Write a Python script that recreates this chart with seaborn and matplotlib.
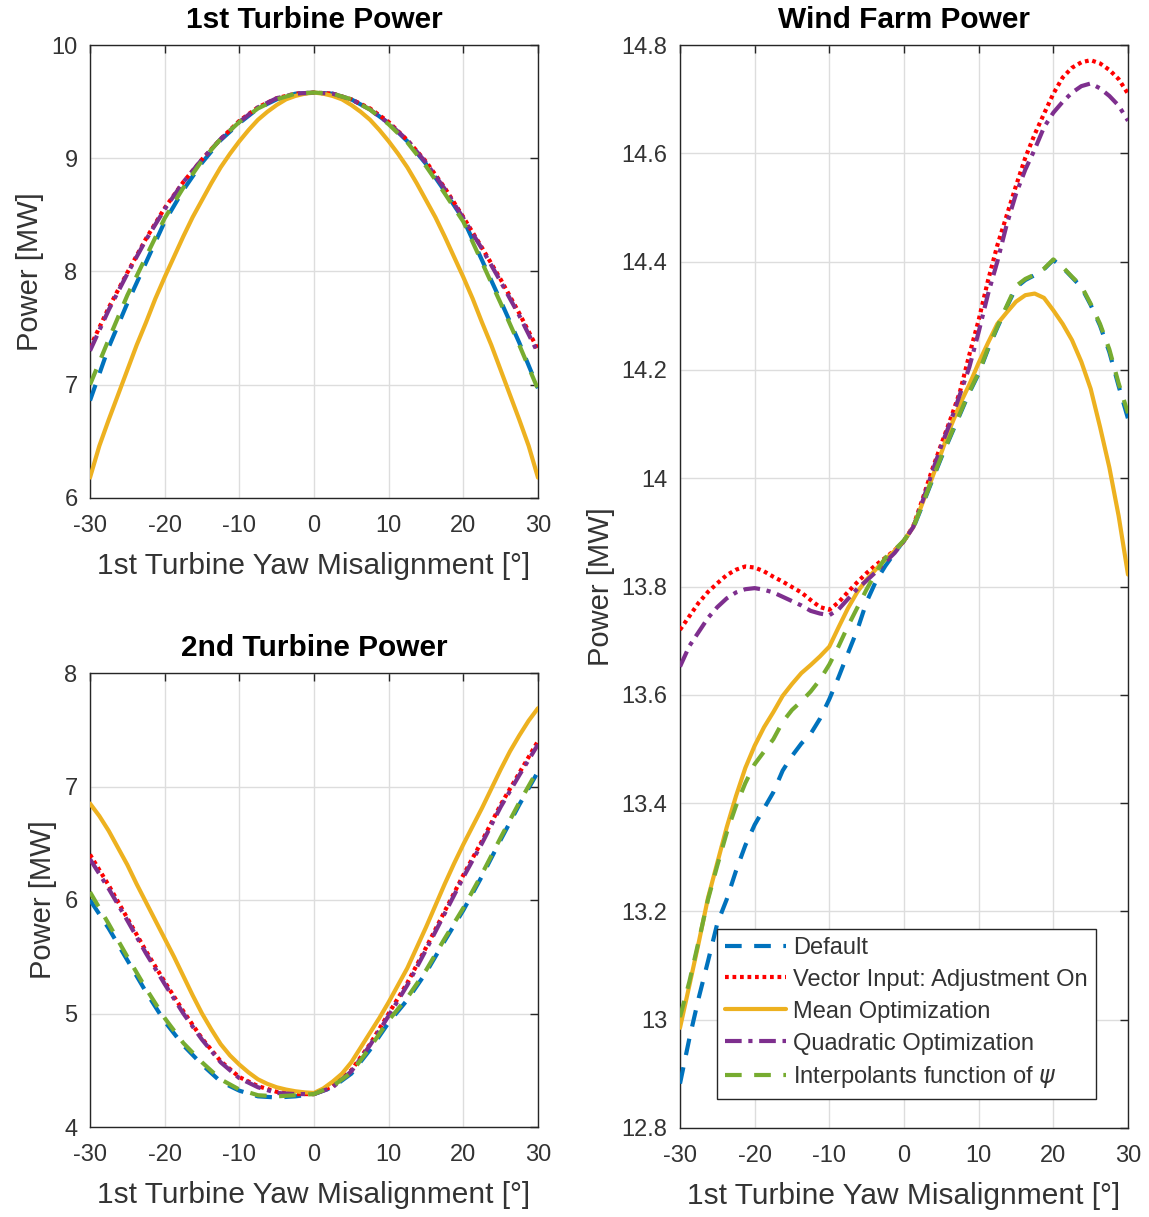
import numpy as np
import pandas as pd
import matplotlib
matplotlib.use("Agg")
import matplotlib.pyplot as plt
import seaborn as sns
from matplotlib.ticker import FuncFormatter, MultipleLocator

# ---------------- data ----------------
yaw = [-30, -27.5, -25, -22.5, -20, -17.5, -15, -12.5, -10, -7.5, -5, -2.5, 0,
       2.5, 5, 7.5, 10, 12.5, 15, 17.5, 20, 22.5, 25, 27.5, 30]
yaw_fine = [-30, -28.75, -27.5, -26.25, -25, -23.75, -22.5, -21.25, -20, -18.75, -17.5, -16.25,
            -15, -13.75, -12.5, -11.25, -10, -8.75, -7.5, -6.25, -5, -3.75, -2.5, -1.25, 0,
            1.25, 2.5, 3.75, 5, 6.25, 7.5, 8.75, 10, 11.25, 12.5, 13.75, 15, 16.25, 17.5,
            18.75, 20, 21.25, 22.5, 23.75, 25, 26.25, 27.5, 28.75, 30]

series_names = ["Default", "Vector Input: Adjustment On", "Mean Optimization",
                "Quadratic Optimization", r"Interpolants function of $\psi$"]

# 1st turbine power [MW]
t1_default = [6.86, 7.33, 7.72, 8.08, 8.44, 8.72, 8.96, 9.16, 9.31, 9.44, 9.52, 9.57, 9.58,
              9.57, 9.52, 9.43, 9.31, 9.15, 8.95, 8.71, 8.46, 8.10, 7.74, 7.37, 6.97]
t1_vector = [7.33, 7.68, 7.99, 8.29, 8.56, 8.79, 8.99, 9.17, 9.33, 9.45, 9.53, 9.57, 9.58,
             9.57, 9.52, 9.44, 9.32, 9.16, 8.97, 8.74, 8.48, 8.21, 7.93, 7.63, 7.31]
t1_mean = [6.18, 6.46, 6.69, 6.91, 7.13, 7.35, 7.55, 7.76, 7.95, 8.13, 8.31, 8.48,
           8.63, 8.78, 8.92, 9.04, 9.15, 9.25, 9.34, 9.41, 9.47, 9.52, 9.55, 9.57, 9.58,
           9.57, 9.55, 9.52, 9.47, 9.41, 9.34, 9.25, 9.15, 9.04, 8.92, 8.78, 8.63, 8.48, 8.31,
           8.13, 7.95, 7.76, 7.55, 7.35, 7.13, 6.91, 6.69, 6.46, 6.18]
t1_quad = [7.30, 7.66, 7.98, 8.28, 8.55, 8.79, 8.99, 9.17, 9.32, 9.45, 9.53, 9.57, 9.58,
           9.57, 9.52, 9.43, 9.31, 9.16, 8.96, 8.73, 8.47, 8.20, 7.91, 7.61, 7.28]
t1_interp = [7.00, 7.40, 7.79, 8.13, 8.47, 8.74, 8.98, 9.17, 9.32, 9.44, 9.52, 9.57, 9.58,
             9.57, 9.52, 9.43, 9.30, 9.14, 8.93, 8.69, 8.44, 8.08, 7.72, 7.35, 6.96]

# 2nd turbine power [MW]
t2_default = [6.00, 5.75, 5.47, 5.19, 4.93, 4.72, 4.55, 4.40, 4.32, 4.27, 4.26, 4.27, 4.29,
              4.35, 4.47, 4.68, 4.92, 5.12, 5.36, 5.64, 5.91, 6.21, 6.53, 6.84, 7.13]
t2_vector = [6.40, 6.13, 5.84, 5.55, 5.28, 5.02, 4.78, 4.58, 4.44, 4.36, 4.31, 4.29, 4.29,
             4.36, 4.50, 4.73, 5.00, 5.27, 5.58, 5.90, 6.22, 6.52, 6.84, 7.12, 7.40]
t2_mean = [6.85, 6.74, 6.61, 6.46, 6.31, 6.14, 5.98, 5.82, 5.66, 5.50, 5.33, 5.16,
           5.00, 4.86, 4.73, 4.63, 4.55, 4.48, 4.42, 4.38, 4.35, 4.33, 4.315, 4.305, 4.30,
           4.34, 4.40, 4.47, 4.57, 4.70, 4.83, 4.96, 5.10, 5.25, 5.40, 5.58, 5.76, 5.95, 6.14,
           6.32, 6.49, 6.65, 6.81, 6.98, 7.15, 7.31, 7.45, 7.58, 7.69]
t2_quad = [6.36, 6.10, 5.82, 5.53, 5.26, 5.00, 4.77, 4.57, 4.43, 4.35, 4.30, 4.29, 4.29,
           4.35, 4.49, 4.72, 4.98, 5.25, 5.56, 5.88, 6.20, 6.50, 6.82, 7.10, 7.37]
t2_interp = [6.07, 5.79, 5.50, 5.22, 4.96, 4.74, 4.57, 4.42, 4.33, 4.28, 4.27, 4.28, 4.29,
             4.36, 4.48, 4.70, 4.94, 5.14, 5.38, 5.66, 5.93, 6.23, 6.55, 6.86, 7.15]

# wind farm power [MW] (on yaw_fine)
wf_default = [12.882, 12.965, 13.040, 13.108, 13.178, 13.222, 13.275, 13.322, 13.360, 13.390, 13.420, 13.460,
              13.487, 13.510, 13.528, 13.556, 13.592, 13.633, 13.677, 13.720, 13.772, 13.810, 13.838, 13.862, 13.885,
              13.908, 13.951, 13.995, 14.038, 14.078, 14.118, 14.158, 14.193, 14.238, 14.278, 14.316, 14.352, 14.366, 14.375,
              14.386, 14.403, 14.389, 14.371, 14.353, 14.320, 14.282, 14.233, 14.170, 14.110]
wf_vector = [13.720, 13.745, 13.770, 13.790, 13.806, 13.821, 13.831, 13.837, 13.835, 13.828, 13.818, 13.809,
             13.799, 13.789, 13.775, 13.762, 13.757, 13.771, 13.790, 13.808, 13.825, 13.840, 13.853, 13.867, 13.884,
             13.912, 13.962, 14.015, 14.063, 14.110, 14.160, 14.228, 14.292, 14.365, 14.430, 14.485, 14.540, 14.592, 14.635,
             14.673, 14.710, 14.740, 14.758, 14.768, 14.772, 14.766, 14.754, 14.737, 14.710]
wf_mean = [12.985, 13.063, 13.142, 13.225, 13.290, 13.355, 13.413, 13.465, 13.506, 13.540, 13.568, 13.598,
           13.620, 13.640, 13.655, 13.671, 13.689, 13.725, 13.760, 13.790, 13.813, 13.832, 13.850, 13.866, 13.885,
           13.910, 13.955, 14.000, 14.047, 14.095, 14.137, 14.173, 14.213, 14.250, 14.285, 14.306, 14.326, 14.338, 14.341,
           14.333, 14.310, 14.285, 14.255, 14.215, 14.165, 14.095, 14.020, 13.930, 13.822]
wf_quad = [13.652, 13.690, 13.716, 13.742, 13.762, 13.778, 13.789, 13.795, 13.797, 13.794, 13.789, 13.781,
           13.773, 13.765, 13.755, 13.750, 13.747, 13.758, 13.777, 13.796, 13.811, 13.827, 13.845, 13.862, 13.884,
           13.910, 13.958, 14.010, 14.060, 14.105, 14.155, 14.205, 14.270, 14.340, 14.400, 14.468, 14.525, 14.570, 14.607,
           14.648, 14.675, 14.695, 14.712, 14.724, 14.729, 14.720, 14.706, 14.688, 14.660]
wf_interp = [13.005, 13.070, 13.145, 13.222, 13.285, 13.345, 13.395, 13.437, 13.472, 13.495, 13.518, 13.550,
             13.572, 13.588, 13.606, 13.628, 13.656, 13.690, 13.727, 13.761, 13.795, 13.826, 13.853, 13.868, 13.885,
             13.910, 13.953, 13.997, 14.040, 14.080, 14.120, 14.160, 14.195, 14.240, 14.280, 14.318, 14.355, 14.368, 14.376,
             14.387, 14.404, 14.390, 14.372, 14.355, 14.322, 14.285, 14.238, 14.175, 14.120]

# ---------------- style ----------------
sns.set_style("white")
plt.rcParams['font.family'] = ['Liberation Sans', 'DejaVu Sans']
plt.rcParams['mathtext.fontset'] = 'dejavusans'
plt.rcParams['axes.unicode_minus'] = False

TXT = "#333333"
AX = "#262626"
colors = ["#0072BD", "#FF0000", "#EDB120", "#7E2F8E", "#77AC30"]
dash_list = [(4, 3), (0.9, 0.9), None, (4, 1.6, 1, 1.6), (4, 3)]
LW = 3.0

W, H = 1149, 1217
fig = plt.figure(figsize=(W / 100, H / 100), dpi=100)


def px_axes(l, r, t, b):
    return fig.add_axes([l / W, 1 - b / H, (r - l) / W, (b - t) / H])


ax1 = px_axes(90, 538, 45, 498)
ax2 = px_axes(90, 538, 673, 1127)
ax3 = px_axes(680, 1128, 45, 1128)

panels = [
    (ax1, [(yaw, t1_default), (yaw, t1_vector), (yaw_fine, t1_mean), (yaw, t1_quad), (yaw, t1_interp)],
     "1st Turbine Power", (6, 10), 1),
    (ax2, [(yaw, t2_default), (yaw, t2_vector), (yaw_fine, t2_mean), (yaw, t2_quad), (yaw, t2_interp)],
     "2nd Turbine Power", (4, 8), 1),
    (ax3, [(yaw_fine, wf_default), (yaw_fine, wf_vector), (yaw_fine, wf_mean), (yaw_fine, wf_quad),
           (yaw_fine, wf_interp)],
     "Wind Farm Power", (12.8, 14.8), 0.2),
]

for ax, data, title, ylim, ystep in panels:
    for i, ((xs, vals), name) in enumerate(zip(data, series_names)):
        df = pd.DataFrame({"yaw": xs, "power": vals})
        sns.lineplot(data=df, x="yaw", y="power", ax=ax, color=colors[i], lw=LW,
                     label=name, legend=False, zorder=3 + i)
        line = ax.get_lines()[-1]
        if dash_list[i] is not None:
            line.set_dashes(dash_list[i])
            line.set_dash_capstyle("butt")
    ax.set_xlim(-30, 30)
    ax.set_ylim(*ylim)
    ax.xaxis.set_major_locator(MultipleLocator(10))
    ax.yaxis.set_major_locator(MultipleLocator(ystep))
    ax.yaxis.set_major_formatter(FuncFormatter(lambda v, p: "%g" % round(v, 2)))
    ax.xaxis.set_major_formatter(FuncFormatter(lambda v, p: "%g" % round(v, 2)))
    ax.grid(True, color="#dddddd", lw=1.0, zorder=0)
    ax.set_axisbelow(True)
    ax.tick_params(direction="in", length=6, width=1, colors=AX, labelcolor=TXT,
                   labelsize=17, top=True, right=True)
    ax.tick_params(axis="x", pad=12)
    ax.tick_params(axis="y", pad=9)
    for s in ax.spines.values():
        s.set_color(AX)
        s.set_linewidth(1.0)
    ax.set_title(title, fontsize=21.5, fontweight="bold", color="black", pad=12)
    ax.set_xlabel("1st Turbine Yaw Misalignment [°]", fontsize=21.5, color=TXT, labelpad=11)
    ax.set_ylabel("Power [MW]", fontsize=21, color=TXT, labelpad=5)

leg = ax3.legend(loc="lower left", bbox_to_anchor=(0.082, 0.027), fontsize=17,
                 frameon=True, fancybox=False, edgecolor=AX, framealpha=1,
                 handlelength=2.6, handletextpad=0.3, labelspacing=0.42,
                 borderpad=0.35, borderaxespad=0)
leg.get_frame().set_linewidth(1.0)
for t in leg.get_texts():
    t.set_color(TXT)

fig.savefig("out.png", dpi=100)
